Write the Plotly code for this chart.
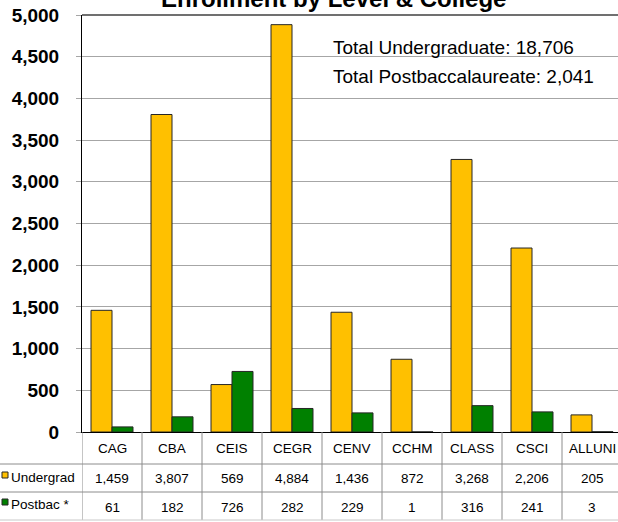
import plotly.graph_objects as go

# ---- data ----
colleges = ["CAG", "CBA", "CEIS", "CEGR", "CENV", "CCHM", "CLASS", "CSCI", "ALLUNI"]
undergrad = [1459, 3807, 569, 4884, 1436, 872, 3268, 2206, 205]
postbac = [61, 182, 726, 282, 229, 1, 316, 241, 3]
series_names = ["Undergrad", "Postbac *"]
y_ticks = [0, 500, 1000, 1500, 2000, 2500, 3000, 3500, 4000, 4500, 5000]
title_text = "Enrollment by Level & College"
total_lines = ["Total Undergraduate: 18,706", "Total Postbaccalaureate: 2,041"]

# ---- styling ----
W, H = 618, 522
L, R, T, B = 82, 0, 15, 90
PW, PH = W - L - R, H - T - B
FONT = "Liberation Sans, Arial, sans-serif"
YELLOW = "#FFC000"
GREEN = "#008000"
GRID = "#A6A6A6"
TABLE = "#8C8C8C"
TFS = 13.5


def px_x(px):
    return (px - L) / PW


def px_y(py):
    return (H - B - py) / PH


fig = go.Figure()
fig.add_trace(go.Bar(x=colleges, y=undergrad, name=series_names[0],
                     marker=dict(color=YELLOW, line=dict(color="#262626", width=1))))
fig.add_trace(go.Bar(x=colleges, y=postbac, name=series_names[1],
                     marker=dict(color=GREEN, line=dict(color="#262626", width=1))))

n = len(colleges)
cat_w = 60.0
x_hi = -0.5 + PW / cat_w

shapes = []
annotations = []

# top border of plot
shapes.append(dict(type="line", xref="paper", yref="paper", x0=0, x1=1, y0=1, y1=1,
                   line=dict(color="#404040", width=1.5)))

# table vertical lines (category boundaries)
y_bottom = px_y(520)
for i in range(n + 1):
    shapes.append(dict(type="line", xref="x", yref="paper", x0=i - 0.5, x1=i - 0.5,
                       y0=0, y1=y_bottom, line=dict(color=TABLE, width=1)))
# table horizontal lines
for py, col in [(464, TABLE), (492, TABLE), (520, "#C8C8C8")]:
    shapes.append(dict(type="line", xref="paper", yref="paper", x0=px_x(0), x1=1,
                       y0=px_y(py), y1=px_y(py), line=dict(color=col, width=1)))

# header labels & values
row_y = [px_y(448), px_y(478), px_y(507)]
for i, c in enumerate(colleges):
    for r, txt in enumerate([c, f"{undergrad[i]:,}", f"{postbac[i]:,}"]):
        annotations.append(dict(x=i, y=row_y[r], xref="x", yref="paper", text=txt,
                                showarrow=False, xanchor="center", yanchor="middle",
                                font=dict(family=FONT, size=TFS, color="#000")))

# legend keys in table
for k, (name, col) in enumerate(zip(series_names, [YELLOW, GREEN])):
    cy = [475, 502][k]
    shapes.append(dict(type="rect", xref="paper", yref="paper",
                       x0=px_x(2), x1=px_x(8), y0=px_y(cy + 3), y1=px_y(cy - 3),
                       fillcolor=col, line=dict(color="#262626", width=1)))
    annotations.append(dict(x=px_x(9), y=px_y(cy + 2), xref="paper", yref="paper", text=name,
                            xanchor="left", yanchor="middle", showarrow=False,
                            font=dict(family=FONT, size=TFS, color="#000")))

# title
annotations.append(dict(x=px_x(333), y=px_y(-1.5), xref="paper", yref="paper",
                        text=f"<b>{title_text}</b>", showarrow=False,
                        xanchor="center", yanchor="middle",
                        font=dict(family=FONT, size=24, color="#000")))
# totals
for k, t in enumerate(total_lines):
    annotations.append(dict(x=px_x(331), y=px_y([48, 76][k]), xref="paper", yref="paper", text=t,
                            xanchor="left", yanchor="middle", showarrow=False,
                            font=dict(family=FONT, size=19, color="#000")))

fig.update_layout(
    width=W, height=H,
    margin=dict(l=L, r=R, t=T, b=B, pad=0),
    paper_bgcolor="white", plot_bgcolor="white",
    barmode="group", bargap=0.3, bargroupgap=0,
    showlegend=False,
    shapes=shapes, annotations=annotations,
    font=dict(family=FONT, color="#000"),
)
fig.update_xaxes(range=[-0.5, x_hi], showticklabels=False, ticks="", showgrid=False,
                 showline=True, linecolor="#000", linewidth=1, zeroline=False, fixedrange=True)
fig.update_yaxes(range=[0, 5000], tickvals=y_ticks, tickformat=",d",
                 tickfont=dict(family=FONT, size=19, color="#000", weight="bold"),
                 ticks="outside", ticklen=5, tickcolor=GRID, ticklabelstandoff=13,
                 showgrid=True, gridcolor=GRID, gridwidth=1,
                 showline=True, linecolor="#000", linewidth=1, zeroline=False, fixedrange=True)

fig.write_html("out.html", config={"displayModeBar": False},
               post_script="document.body.style.margin='0px';")
